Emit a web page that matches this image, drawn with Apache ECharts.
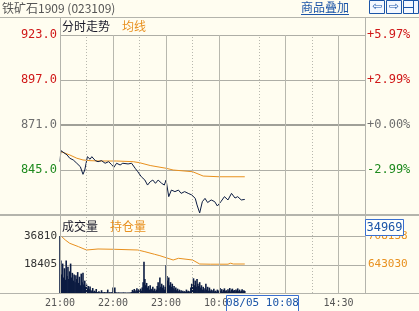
<!DOCTYPE html>
<html><head><meta charset="utf-8">
<script src="https://cdn.jsdelivr.net/npm/echarts@6/dist/echarts.min.js"></script>
<style>html,body{margin:0;padding:0;background:#FFFDF0;}#c{width:419px;height:311px;}</style>
</head><body><div id="c"></div>
<script>
const titleText = '铁矿石1909 (023109)';
const preClose = 871;
const priceTicks = [845, 871, 897, 923];
const priceTickLabels = ['845.0', '871.0', '897.0', '923.0'];
const pctTickLabels = ['-2.99%', '+0.00%', '+2.99%', '+5.97%'];
const volTicks = [18405, 36810];
const oiTicks = [643030, 708138];
const timeTicks = [0, 60, 120, 180, 315];
const timeTickLabels = ['21:00', '22:00', '23:00', '10:00', '14:30'];
const gridMinutes = [30, 60, 90, 120, 150, 180, 225, 255, 285, 315];
const gridMinuteSolid = [false, true, false, true, false, true, false, true, false, true];

const priceTimes = [0,1,3,8,11,15,19,23,26,28,31,34,36,40,43,47,51,55,58,61,64,68,71,77,81,85,88,92,96,99,102,105,108,111,115,118,120,123,126,130,134,137,141,145,149,153,155,158,161,164,167,171,175,178,182,186,190,194,198,201,205,209];
const priceValues = [849.8,856.2,856.2,853.7,851.8,850.8,848.9,846.9,842.5,845.0,852.7,851.2,852.7,850.4,849.8,850.4,848.9,849.8,848.3,846.6,848.9,847.9,848.9,848.5,848.9,846.0,844.0,841.1,839.2,836.3,838.2,839.2,837.3,839.2,837.3,836.3,839.2,829.6,833.4,832.5,833.4,831.5,832.5,831.5,830.6,828.6,824.8,820.2,826.7,828.6,826.2,827.7,826.7,824.2,826.7,829.6,827.7,831.5,828.8,829.6,827.7,828.0];

const avgTimes = [1,11,19,26,34,45,64,83,90,102,120,128,150,162,180,209];
const avgValues = [855.6,853.7,851.8,850.8,850.4,850.2,850.2,849.8,849.2,847.6,846.0,845.0,844.0,841.5,841.1,841.1];

const oiTimes = [2,6,11,21,30,32,43,62,88,96,107,113,128,134,150,158,170,190,193,196,209];
const oiValues = [706540,699000,691460,683700,676150,677750,678440,677750,676150,672270,666330,663130,653310,657190,653310,644170,643720,643720,646000,644170,644170];

// volume per minute, index = trading minutes since 21:00
const volumes = [
36810,21000,12000,19000,10000,16000,8500,21000,11000,17000,
9000,14000,19000,10000,13000,8000,12000,7000,11500,9000,
13500,6500,10500,5000,12500,7000,13000,5500,8000,4000,
5500,3000,4500,2500,4200,1800,1200,3200,900,1500,
800,2600,600,500,1200,500,300,1800,500,300,
600,300,500,300,2200,300,500,300,500,300,
3500,600,3600,500,300,200,400,200,300,200,
300,200,400,200,300,200,200,300,200,400,
300,600,2000,1200,2600,900,1800,3000,1400,2400,
1100,2800,1500,3600,7000,20200,9000,5000,6500,3500,
4500,2200,5000,2800,2200,4000,1600,2800,1200,2200,
4500,7000,3000,10000,4000,6000,3500,5000,2200,4000,
18000,11000,8000,10000,5000,7000,4000,6000,3000,4500,
2200,3500,1800,2800,1200,2200,900,1800,800,1400,
700,1200,700,2200,900,1500,800,1200,3500,6000,
4000,9500,5000,8000,4000,9000,6000,4500,7000,3500,
5000,2200,4000,1800,3000,6000,2200,4000,1500,3500,
1200,2200,900,1800,2800,1000,1500,800,2200,1200,
1800,3200,1300,2500,900,2000,3000,1200,1800,800,
2500,1500,3200,1000,2200,2800,1300,1900,900,2300,
1600,3000,1200,2200,900,1500,2500,1000,1800,1300];

const crossTimeText = '08/05 10:08';
const crossVolText = '34969';

const RED = '#D01818', GREEN = '#1E8A1E', GRAYT = '#6E6E6E', ORANGE = '#E8901E', NAVY = '#0C1C42', BLUE = '#1C55A8';
const GRID = '#AEAEA6';

const chart = echarts.init(document.getElementById('c'), null, {renderer: 'canvas'});

const priceData = priceTimes.map((t, i) => [t, priceValues[i]]);
const avgData = avgTimes.map((t, i) => [t, avgValues[i]]);
const oiData = oiTimes.map((t, i) => [t, oiValues[i]]);
const volData = volumes.map((v, i) => [i, v]);

function vLines() {
  return gridMinutes.map((m, i) => ({
    xAxis: m,
    lineStyle: {color: '#B8B8AE', width: 1, type: gridMinuteSolid[i] ? 'solid' : [1, 2]}
  }));
}

const monoFont = '"DejaVu Sans Mono", monospace';
const priceColor = v => v > preClose ? RED : (v < preClose ? GREEN : GRAYT);

const staticGraphics = [
  {type: 'line', shape: {x1: 0, y1: 17.5, x2: 419, y2: 17.5}, style: {stroke: '#B4B4AC', lineWidth: 1}, z: 5},
  {type: 'line', shape: {x1: 0, y1: 215, x2: 419, y2: 215}, style: {stroke: '#B4B4AC', lineWidth: 2}, z: 5},
  {type: 'line', shape: {x1: 0, y1: 293.5, x2: 419, y2: 293.5}, style: {stroke: '#B4B4AC', lineWidth: 1}, z: 5},
  {type: 'line', shape: {x1: 60.5, y1: 17, x2: 60.5, y2: 294}, style: {stroke: '#B4B4AC', lineWidth: 1}, z: 5},
  {type: 'line', shape: {x1: 365.5, y1: 17, x2: 365.5, y2: 294}, style: {stroke: '#B4B4AC', lineWidth: 1}, z: 5},
  {type: 'text', x: 2, y: 8, style: {text: titleText, fill: '#555', font: '12px "Noto Sans CJK SC"', verticalAlign: 'middle'}, z: 6},
  {type: 'text', x: 301, y: 7, style: {text: '商品叠加', fill: BLUE, font: '12px "Noto Sans CJK SC"', verticalAlign: 'middle'}, z: 6},
  {type: 'line', shape: {x1: 301, y1: 14.5, x2: 349, y2: 14.5}, style: {stroke: BLUE, lineWidth: 1}, z: 6},
  {type: 'rect', shape: {x: 369.5, y: 0.5, width: 15, height: 13}, style: {stroke: BLUE, fill: '#F4F8FF', lineWidth: 1}, z: 6},
  {type: 'text', x: 377, y: 7, style: {text: '⇦', fill: BLUE, font: '12px "DejaVu Sans"', align: 'center', verticalAlign: 'middle'}, z: 7},
  {type: 'rect', shape: {x: 386.5, y: 0.5, width: 15, height: 13}, style: {stroke: BLUE, fill: '#F4F8FF', lineWidth: 1}, z: 6},
  {type: 'text', x: 394, y: 7, style: {text: '⇨', fill: BLUE, font: '12px "DejaVu Sans"', align: 'center', verticalAlign: 'middle'}, z: 7},
  {type: 'rect', shape: {x: 403.5, y: 0.5, width: 15, height: 13}, style: {stroke: BLUE, fill: '#F4F8FF', lineWidth: 1}, z: 6},
  {type: 'line', shape: {x1: 404, y1: 7.5, x2: 413, y2: 7.5}, style: {stroke: BLUE, lineWidth: 1}, z: 7},
  {type: 'line', shape: {x1: 413.5, y1: 1, x2: 413.5, y2: 13}, style: {stroke: BLUE, lineWidth: 1}, z: 7},
  {type: 'text', x: 62, y: 26, style: {text: '分时走势', fill: '#1A1A2A', font: '12px "Noto Sans CJK SC"', verticalAlign: 'middle'}, z: 6},
  {type: 'text', x: 122, y: 26, style: {text: '均线', fill: ORANGE, font: '12px "Noto Sans CJK SC"', verticalAlign: 'middle'}, z: 6},
  {type: 'text', x: 62, y: 226, style: {text: '成交量', fill: '#1A1A2A', font: '12px "Noto Sans CJK SC"', verticalAlign: 'middle'}, z: 6},
  {type: 'text', x: 110, y: 226, style: {text: '持仓量', fill: ORANGE, font: '12px "Noto Sans CJK SC"', verticalAlign: 'middle'}, z: 6},
  {type: 'rect', shape: {x: 365.5, y: 219.5, width: 38, height: 16}, style: {stroke: '#3A6FD0', fill: '#FFFFFA', lineWidth: 1}, z: 8},
  {type: 'text', x: 384.5, y: 228, style: {text: crossVolText, fill: BLUE, font: '12px "DejaVu Sans Mono"', align: 'center', verticalAlign: 'middle'}, z: 9},
  {type: 'rect', shape: {x: 226.5, y: 295.5, width: 72, height: 16}, style: {stroke: '#3A6FD0', fill: '#FFFFFA', lineWidth: 1}, z: 8},
  {type: 'text', x: 262.5, y: 303.5, style: {text: crossTimeText, fill: BLUE, font: '11px "DejaVu Sans Mono"', align: 'center', verticalAlign: 'middle'}, z: 9}
];

const option = {
  backgroundColor: '#FFFDF0',
  animation: false,
  grid: [
    {left: 60, top: 35, width: 305, height: 180},
    {left: 60, top: 215, width: 305, height: 78}
  ],
  xAxis: [
    {type: 'value', gridIndex: 0, min: 0, max: 345, axisLine: {show: false}, axisTick: {show: false}, axisLabel: {show: false}, splitLine: {show: false}},
    {type: 'value', gridIndex: 1, min: 0, max: 345, axisLine: {show: false}, axisTick: {show: false}, splitLine: {show: false},
      axisLabel: {customValues: timeTicks, formatter: v => timeTickLabels[timeTicks.indexOf(v)], color: '#555', fontFamily: monoFont, fontSize: 10, margin: 5}}
  ],
  yAxis: [
    {type: 'value', gridIndex: 0, min: 819, max: 923, position: 'left', axisLine: {show: false}, axisTick: {show: false}, splitLine: {show: false},
      axisLabel: {customValues: priceTicks, formatter: v => priceTickLabels[priceTicks.indexOf(v)],
        color: priceColor, fontFamily: monoFont, fontSize: 12, margin: 3}},
    {type: 'value', gridIndex: 0, min: 819, max: 923, position: 'right', axisLine: {show: false}, axisTick: {show: false}, splitLine: {show: false},
      axisLabel: {customValues: priceTicks, formatter: v => pctTickLabels[priceTicks.indexOf(v)],
        color: priceColor, fontFamily: monoFont, fontSize: 12, margin: 2}},
    {type: 'value', gridIndex: 1, min: 0, max: 50372, position: 'left', axisLine: {show: false}, axisTick: {show: false}, splitLine: {show: false},
      axisLabel: {customValues: volTicks, formatter: v => String(v), color: '#333', fontFamily: monoFont, fontSize: 11, margin: 3}},
    {type: 'value', gridIndex: 1, min: 577922, max: 756112, position: 'right', axisLine: {show: false}, axisTick: {show: false}, splitLine: {show: false},
      axisLabel: {customValues: oiTicks, formatter: v => String(v), color: ORANGE, fontFamily: monoFont, fontSize: 11, margin: 3}}
  ],
  series: [
    {type: 'line', xAxisIndex: 0, yAxisIndex: 0, data: [[0, 871]], symbol: 'none', lineStyle: {opacity: 0}, z: 1, silent: true,
      markLine: {silent: true, symbol: 'none', label: {show: false}, animation: false, data: vLines()}},
    {type: 'line', xAxisIndex: 1, yAxisIndex: 2, data: [[0, 0]], symbol: 'none', lineStyle: {opacity: 0}, z: 1, silent: true,
      markLine: {silent: true, symbol: 'none', label: {show: false}, animation: false, data: vLines()}},
    {name: '均线', type: 'line', xAxisIndex: 0, yAxisIndex: 0, data: avgData, symbol: 'none', lineStyle: {color: ORANGE, width: 1}, z: 3},
    {name: '分时走势', type: 'line', xAxisIndex: 0, yAxisIndex: 0, data: priceData, symbol: 'none', lineStyle: {color: NAVY, width: 1}, z: 4},
    {name: '成交量', type: 'bar', xAxisIndex: 1, yAxisIndex: 2, data: volData, barWidth: 1.6, itemStyle: {color: NAVY}, z: 3},
    {name: '持仓量', type: 'line', xAxisIndex: 1, yAxisIndex: 3, data: oiData, symbol: 'none', lineStyle: {color: ORANGE, width: 1}, z: 4}
  ],
  graphic: staticGraphics
};
chart.setOption(option);

// horizontal grid lines placed through the axes' own scales
const hLines = [];
priceTicks.forEach(v => {
  const y = Math.round(chart.convertToPixel({yAxisIndex: 0}, v));
  const base = v === preClose;
  hLines.push({type: 'line', silent: true, z: 2,
    shape: {x1: 61, y1: base ? y : y + 0.5, x2: 365, y2: base ? y : y + 0.5},
    style: {stroke: base ? '#A0A098' : GRID, lineWidth: base ? 2 : 1}});
});
volTicks.forEach(v => {
  const y = Math.round(chart.convertToPixel({yAxisIndex: 2}, v));
  hLines.push({type: 'line', silent: true, z: 2,
    shape: {x1: 61, y1: y + 0.5, x2: 365, y2: y + 0.5}, style: {stroke: GRID, lineWidth: 1}});
});
chart.setOption({graphic: staticGraphics.concat(hLines)});
</script></body></html>
